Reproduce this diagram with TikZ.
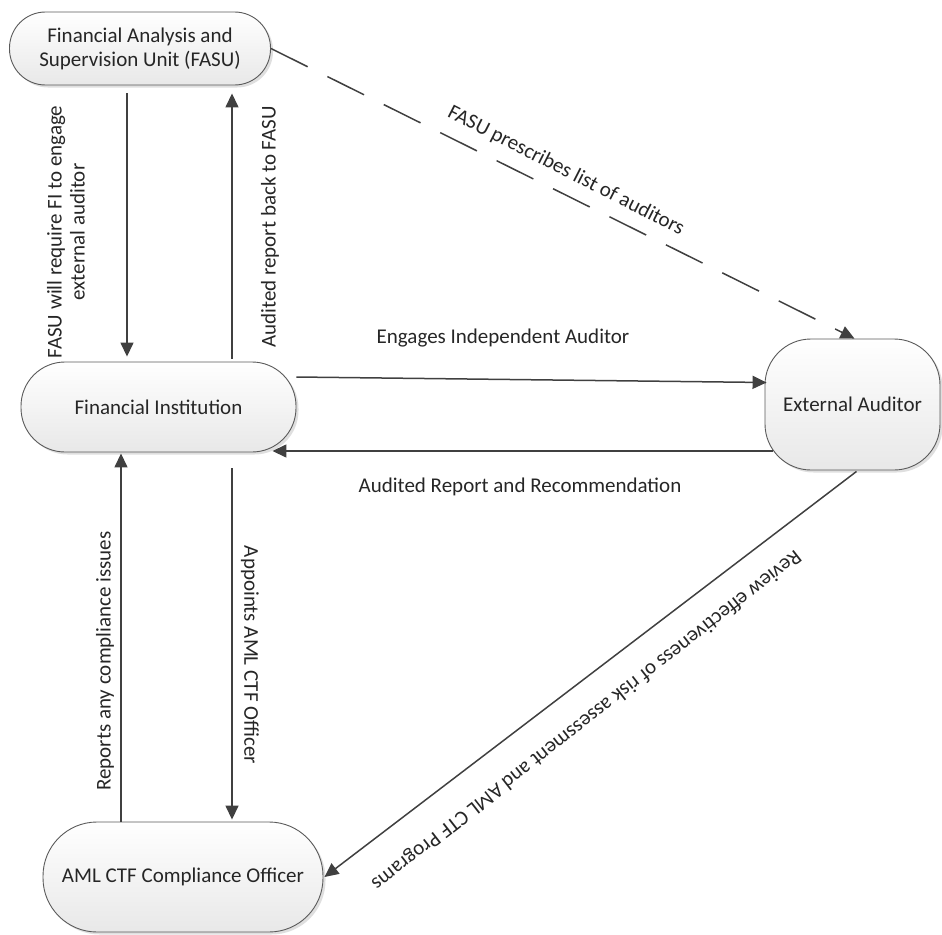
\documentclass[tikz,border=0pt]{standalone}
\usepackage{fontspec}
\setmainfont{Carlito}
\usetikzlibrary{arrows.meta,shadows}
\definecolor{edgec}{HTML}{404040}
\definecolor{boxc}{HTML}{5A5A5A}
\definecolor{txtc}{HTML}{262626}
\begin{document}
\begin{tikzpicture}[x=1pt,y=-1pt,
  box/.style={draw=boxc, line width=0.9pt, top color=white, bottom color=black!9,
    drop shadow={shadow xshift=2.5pt,shadow yshift=-2.5pt,fill=black!25,opacity=0.5},
    font=\fontsize{21}{24}\selectfont, text=txtc, align=center, inner sep=0pt},
  arr/.style={draw=edgec, line width=1.5pt, -{Triangle[length=14pt,width=13pt]}},
  lbl/.style={font=\fontsize{21}{23}\selectfont, text=txtc, align=center, inner sep=0pt}]
\useasboundingbox (0,0) rectangle (942,934);

\node[box, minimum width=261pt, minimum height=73pt, rounded corners=36pt] (fasu) at (140,48.5) {Financial Analysis and\\Supervision Unit (FASU)};
\node[box, minimum width=275pt, minimum height=90pt, rounded corners=44pt] (fi) at (158.5,407) {Financial Institution};
\node[box, minimum width=175pt, minimum height=131pt, rounded corners=46pt] (ea) at (852.5,404.5) {External Auditor};
\node[box, minimum width=280pt, minimum height=110pt, rounded corners=54pt] (aml) at (183,877) {AML CTF Compliance Officer};

% FASU <-> FI
\draw[arr] ([xshift=-13pt,yshift=-8pt]fasu.south) -- ([xshift=-31.5pt,yshift=5pt]fi.north);
\draw[arr] ([xshift=73.5pt,yshift=3pt]fi.north) -- ([xshift=92pt,yshift=-8pt]fasu.south);
% FI <-> AML
\draw[arr] ([xshift=-62pt]aml.north) -- ([xshift=-37.5pt,yshift=-1pt]fi.south);
\draw[arr] ([xshift=73.5pt,yshift=-16pt]fi.south) -- ([xshift=49pt,yshift=2pt]aml.north);
% FI <-> EA
\draw[arr] ([yshift=30pt]fi.east) -- ([xshift=2pt,yshift=22pt]ea.west);
\draw[arr] ([xshift=8pt,yshift=-46.5pt]ea.west) -- ([xshift=-24pt,yshift=-44pt]fi.east);
% FASU -> EA dashed
\draw[arr, dash pattern=on 41pt off 22pt] (fasu.east) -- ([xshift=2pt]ea.north);
% EA -> AML
\draw[arr] ([xshift=4pt,yshift=-1pt]ea.south) -- ([xshift=1pt]aml.east);

% labels
\node[lbl, rotate=90] (l1) at (66,232) {FASU will require FI to engage\\external auditor};
\node[lbl, rotate=90] (l2) at (270,227) {Audited report back to FASU};
\node[lbl] (l3) at (503,338) {Engages Independent Auditor};
\node[lbl] (l4) at (520,487) {Audited Report and Recommendation};
\node[lbl, rotate=-27] (l5) at (566,171) {FASU prescribes list of auditors};
\node[lbl, rotate=90] (l6) at (105,661) {Reports any compliance issues};
\node[lbl, rotate=-90] (l7) at (250,655) {Appoints AML CTF Officer};
\node[lbl, rotate=218] (l8) at (586,720) {Review effectiveness of risk assessment and AML CTF Programs};
\end{tikzpicture}
\end{document}
